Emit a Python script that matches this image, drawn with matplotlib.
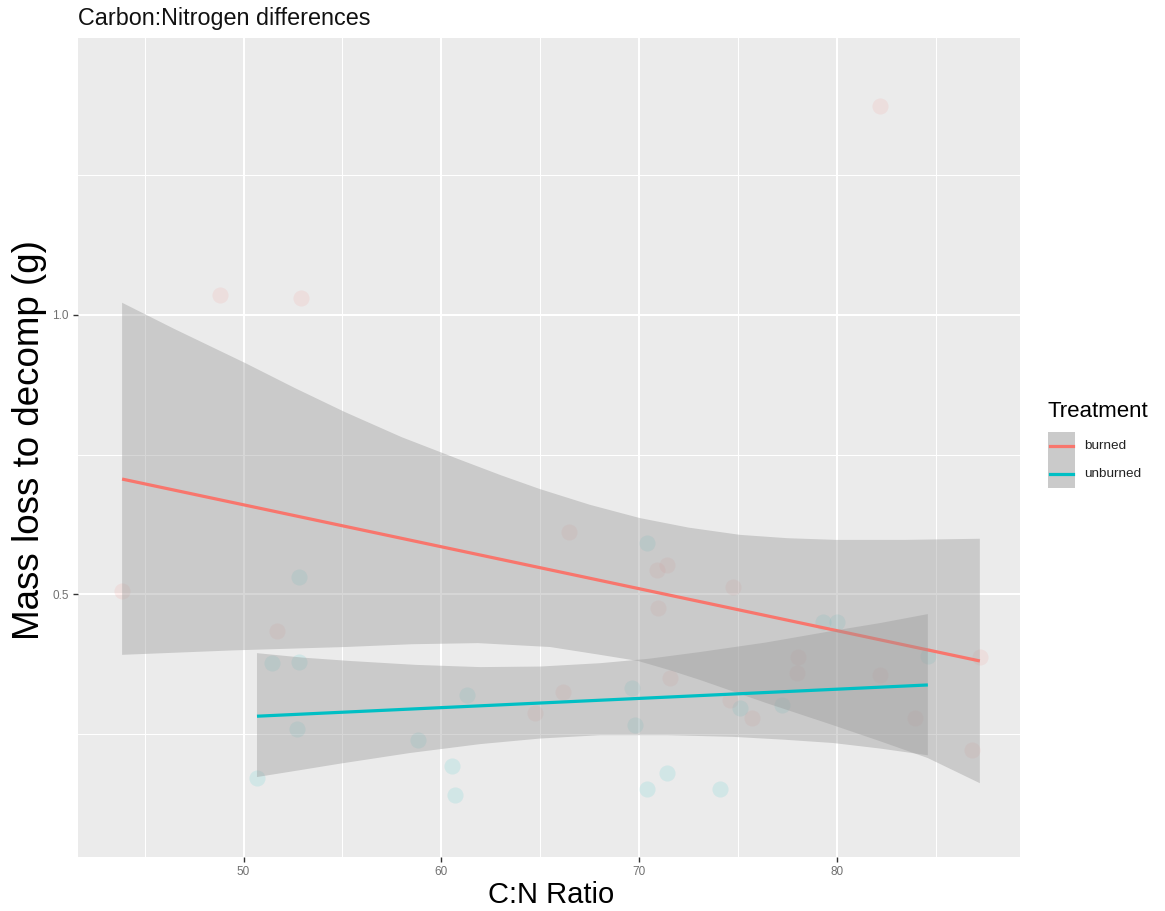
import matplotlib
matplotlib.use("Agg")
import matplotlib.pyplot as plt
from matplotlib.patches import Rectangle
from matplotlib.lines import Line2D
import numpy as np

plt.rcParams['font.family'] = ['Liberation Sans', 'DejaVu Sans']

# C:N ratio vs mass loss, by treatment
burned_cn = [43.86, 48.81, 52.91, 51.69, 66.46, 82.18, 71.41, 70.91, 74.75, 70.96, 71.56,
             66.15, 64.74, 78.03, 77.98, 82.18, 74.60, 75.71, 83.96, 86.84, 87.24]
burned_loss = [0.505, 1.036, 1.030, 0.434, 0.611, 1.375, 0.552, 0.543, 0.513, 0.475, 0.349,
               0.324, 0.287, 0.387, 0.358, 0.355, 0.310, 0.278, 0.278, 0.220, 0.387]

unburned_cn = [50.68, 51.44, 52.81, 52.81, 52.70, 58.82, 60.54, 60.69, 61.30, 69.64, 69.79,
               70.40, 70.40, 71.41, 74.09, 75.10, 77.22, 79.30, 80.00, 84.60]
unburned_loss = [0.170, 0.376, 0.530, 0.378, 0.258, 0.238, 0.192, 0.140, 0.319, 0.332, 0.265,
                 0.591, 0.151, 0.179, 0.151, 0.296, 0.301, 0.450, 0.450, 0.389]

# lm fit lines (endpoints) and 95% CI band edges
burned_fit_x = [43.86, 87.23]
burned_fit_y = [0.706, 0.380]
burned_hi_x = [43.86, 46.5, 50.08, 52.6, 55.13, 58.0, 60.99, 63.0, 64.99, 67.5, 70.05,
               72.5, 75.10, 77.5, 79.95, 83.5, 87.23]
burned_hi_y = [1.022, 0.975, 0.914, 0.869, 0.826, 0.781, 0.740, 0.713, 0.688, 0.660, 0.636,
               0.619, 0.606, 0.600, 0.597, 0.597, 0.599]
burned_lo_x = [43.86, 49.5, 55.13, 58.5, 61.86, 65.50, 68.03, 69.95, 71.5, 73.08, 76.4,
               79.80, 82.2, 84.60, 87.23]
burned_lo_y = [0.391, 0.399, 0.405, 0.410, 0.412, 0.405, 0.391, 0.380, 0.364, 0.346, 0.305,
               0.265, 0.236, 0.206, 0.161]

unburned_fit_x = [50.68, 84.60]
unburned_fit_y = [0.281, 0.337]
unburned_hi_x = [50.68, 53.0, 55.38, 58.7, 61.96, 65.0, 68.03, 70.5, 73.08, 76.4, 79.80,
                 82.2, 84.60]
unburned_hi_y = [0.394, 0.386, 0.380, 0.373, 0.369, 0.370, 0.376, 0.384, 0.396, 0.413, 0.434,
                 0.448, 0.464]
unburned_lo_x = [50.68, 52.8, 54.88, 58.4, 61.96, 65.0, 68.03, 71.4, 74.75, 77.3, 79.80,
                 82.2, 84.60]
unburned_lo_y = [0.172, 0.184, 0.196, 0.215, 0.231, 0.241, 0.247, 0.247, 0.244, 0.239, 0.233,
                 0.223, 0.211]

red = '#F8766D'
teal = '#00BFC4'

W, H = 1165, 911
fig = plt.figure(figsize=(W / 100, H / 100), dpi=100)
ax = fig.add_axes([78 / W, 1 - 857 / H, (1020 - 78) / W, (857 - 38) / H])
ax.set_facecolor('#EBEBEB')
for s in ax.spines.values():
    s.set_visible(False)

ax.set_xlim(41.63, 89.26)
ax.set_ylim(0.0287, 1.4964)
ax.set_xticks([50, 60, 70, 80])
ax.set_xticks([45, 55, 65, 75, 85], minor=True)
ax.set_yticks([0.5, 1.0])
ax.set_yticks([0.25, 0.75, 1.25], minor=True)
ax.set_yticklabels(['0.5', '1.0'])
ax.grid(which='major', color='white', lw=1.5)
ax.grid(which='minor', color='white', lw=0.75)
ax.set_axisbelow(True)
ax.tick_params(which='major', length=3.5, width=1.0, color='#333333',
               labelsize=8.5, labelcolor='#707070', pad=3)
ax.tick_params(which='minor', length=0)

# points
ax.scatter(burned_cn, burned_loss, s=135, color=red, alpha=0.11, lw=0, zorder=2)
ax.scatter(unburned_cn, unburned_loss, s=135, color=teal, alpha=0.11, lw=0, zorder=2)

# smooths: ribbon then line, per group
for hx, hy, lx, ly, fx, fy, c in [
        (burned_hi_x, burned_hi_y, burned_lo_x, burned_lo_y, burned_fit_x, burned_fit_y, red),
        (unburned_hi_x, unburned_hi_y, unburned_lo_x, unburned_lo_y, unburned_fit_x, unburned_fit_y, teal)]:
    px = np.r_[hx, lx[::-1]]
    py = np.r_[hy, ly[::-1]]
    ax.fill(px, py, color='#999999', alpha=0.4, lw=0, zorder=3)
    ax.plot(fx, fy, color=c, lw=2.3, solid_capstyle='butt', zorder=3)

# labels
fig.text(78 / W, 1 - 25 / H, 'Carbon:Nitrogen differences', fontsize=16.8,
         ha='left', va='baseline', color='#111111')
fig.text(551 / W, 1 - 903 / H, 'C:N Ratio', fontsize=21, ha='center', va='baseline')
fig.text(30 / W, 1 - 440 / H, 'Mass loss to decomp (g)', fontsize=26.5, rotation=90,
         ha='center', va='center')

# legend
fig.text(1048 / W, 1 - 417 / H, 'Treatment', fontsize=16, ha='left', va='baseline')
for i, (lab, c) in enumerate([('burned', red), ('unburned', teal)]):
    top = 432 + 28 * i
    fig.add_artist(Rectangle((1048 / W, 1 - (top + 28) / H), 27 / W, 28 / H,
                             transform=fig.transFigure, facecolor='#CACACA', lw=0))
    yc = 1 - (top + 14) / H
    fig.add_artist(Line2D([1050 / W, 1073 / W], [yc, yc], transform=fig.transFigure,
                          color=c, lw=2.3))
    fig.text(1084 / W, yc, lab, fontsize=9.7, ha='left', va='center', color='#222222')

fig.savefig('out.png', dpi=100)
